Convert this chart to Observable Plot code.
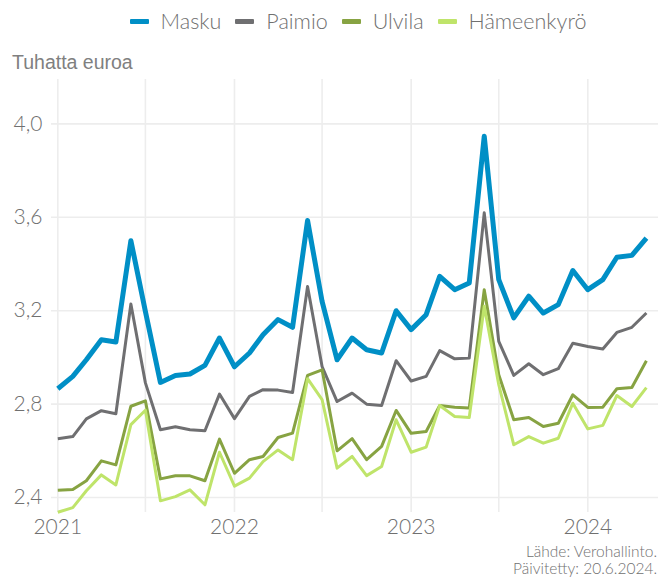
<!DOCTYPE html>
<html>
<head>
<meta charset="utf-8">
<script src="https://cdn.jsdelivr.net/npm/d3@7"></script>
<script src="https://cdn.jsdelivr.net/npm/@observablehq/plot@0.6"></script>
<style>
  html, body { margin: 0; padding: 0; background: #fff; }
  body { width: 666px; height: 579px; position: relative; overflow: hidden;
         font-family: Lato, "Noto Sans", sans-serif; font-weight: 300; color: #707070; }
  #legend { position: absolute; top: 8px; left: 50px; width: 616px; display: flex;
            justify-content: center; align-items: center; font-size: 21.5px; line-height: 27px; }
  .item { display: flex; align-items: center; margin: 0 7px; }
  .sw { width: 19px; height: 5px; border-radius: 1px; margin-right: 12px; }
  #ylab { position: absolute; top: 49px; left: 12px; font-family: "Liberation Sans", Arial, sans-serif;
          font-weight: 400; font-size: 19.5px; line-height: 26px; color: #808080; }
  #chart { position: absolute; top: 70px; left: 0; }
  #caption { position: absolute; top: 543px; right: 9px; text-align: right; font-size: 15.5px; line-height: 17px; }
</style>
</head>
<body>
<div id="legend"></div>
<div id="ylab">Tuhatta euroa</div>
<div id="chart"></div>
<div id="caption">Lähde: Verohallinto.<br>Päivitetty: 20.6.2024.</div>
<script>
const seriesNames = ["Masku", "Paimio", "Ulvila", "Hämeenkyrö"];
const seriesColors = ["#008fc6", "#6f6f71", "#87a342", "#bfe46a"];
const seriesWidths = [5, 3, 3, 3];
const startMonth = "2021-01-01";
const endMonth = "2024-05-01";
const yTicks = [2.4, 2.8, 3.2, 3.6, 4.0];
const xTickYears = ["2021-01-01", "2022-01-01", "2023-01-01", "2024-01-01"];
const xGridDates = ["2021-01-01", "2021-07-01", "2022-01-01", "2022-07-01", "2023-01-01", "2023-07-01", "2024-01-01"];

const masku = [2.866,2.919,2.990,3.076,3.066,3.500,3.197,2.893,2.923,2.929,2.966,3.083,2.960,
  3.019,3.097,3.162,3.129,3.586,3.240,2.990,3.083,3.033,3.019,3.200,3.119,
  3.183,3.347,3.290,3.319,3.947,3.333,3.169,3.262,3.190,3.226,3.372,3.290,3.333,3.429,3.437,3.511];
const paimio = [2.652,2.661,2.737,2.772,2.759,3.229,2.891,2.690,2.703,2.690,2.686,2.843,2.738,
  2.833,2.862,2.860,2.850,3.304,2.961,2.811,2.847,2.800,2.794,2.986,2.899,
  2.919,3.029,2.994,2.997,3.619,3.069,2.923,2.973,2.926,2.952,3.061,3.047,3.036,3.107,3.129,3.190];
const ulvila = [2.431,2.434,2.472,2.557,2.540,2.791,2.814,2.480,2.493,2.493,2.472,2.650,2.504,
  2.562,2.576,2.657,2.676,2.923,2.947,2.600,2.652,2.562,2.619,2.773,2.675,
  2.683,2.794,2.787,2.783,3.290,2.926,2.733,2.743,2.704,2.718,2.840,2.786,2.787,2.866,2.871,2.986];
const hameenkyro = [2.337,2.357,2.429,2.497,2.454,2.712,2.774,2.386,2.404,2.433,2.369,2.594,2.449,
  2.483,2.554,2.604,2.562,2.909,2.819,2.526,2.576,2.494,2.533,2.733,2.594,
  2.616,2.794,2.747,2.743,3.219,2.883,2.626,2.661,2.633,2.654,2.804,2.694,2.709,2.837,2.790,2.871];
const seriesValues = [masku, paimio, ulvila, hameenkyro];

const months = d3.utcMonth.range(new Date(startMonth), d3.utcDay.offset(new Date(endMonth), 1));
const data = [];
seriesNames.forEach((name, s) => {
  seriesValues[s].forEach((v, i) => data.push({ series: name, date: months[i], value: v }));
});

// legend
const legend = document.getElementById("legend");
seriesNames.forEach((n, i) => {
  const it = document.createElement("div");
  it.className = "item";
  it.innerHTML = `<span class="sw" style="background:${seriesColors[i]}"></span><span>${n}</span>`;
  legend.appendChild(it);
});

const fmt = d => d.toFixed(1).replace(".", ",");
const W = 666, H = 472;
const chart = Plot.plot({
  width: W,
  height: H,
  marginLeft: 51,
  marginRight: 8,
  marginTop: 9,
  marginBottom: 30,
  style: { fontFamily: "Lato, 'Noto Sans', sans-serif", fontWeight: 300, fontSize: "21px", color: "#707070", background: "#fff" },
  x: { type: "utc", domain: [new Date("2020-12-19"), new Date("2024-05-26")] },
  y: { domain: [2.336, 4.19] },
  color: { domain: seriesNames, range: seriesColors },
  marks: [
    Plot.gridX(xGridDates.map(d => new Date(d)), { stroke: "#ededed", strokeOpacity: 1, strokeWidth: 1.6 }),
    Plot.gridY(yTicks, { stroke: "#ededed", strokeOpacity: 1, strokeWidth: 1.6 }),
    Plot.axisY(yTicks, { tickSize: 0, tickPadding: 9, tickFormat: fmt, label: null, fill: "#707070" }),
    Plot.axisX(xTickYears.map(d => new Date(d)), { tickSize: 0, tickPadding: 7, tickFormat: d3.utcFormat("%Y"), label: null, fill: "#707070" }),
    ...seriesNames.map((n, s) => Plot.lineY(data.filter(d => d.series === n), {
      x: "date", y: "value", stroke: seriesColors[s], strokeWidth: seriesWidths[s],
      strokeLinejoin: "round", strokeLinecap: "butt"
    }))
  ]
});
document.getElementById("chart").appendChild(chart);
</script>
</body>
</html>
